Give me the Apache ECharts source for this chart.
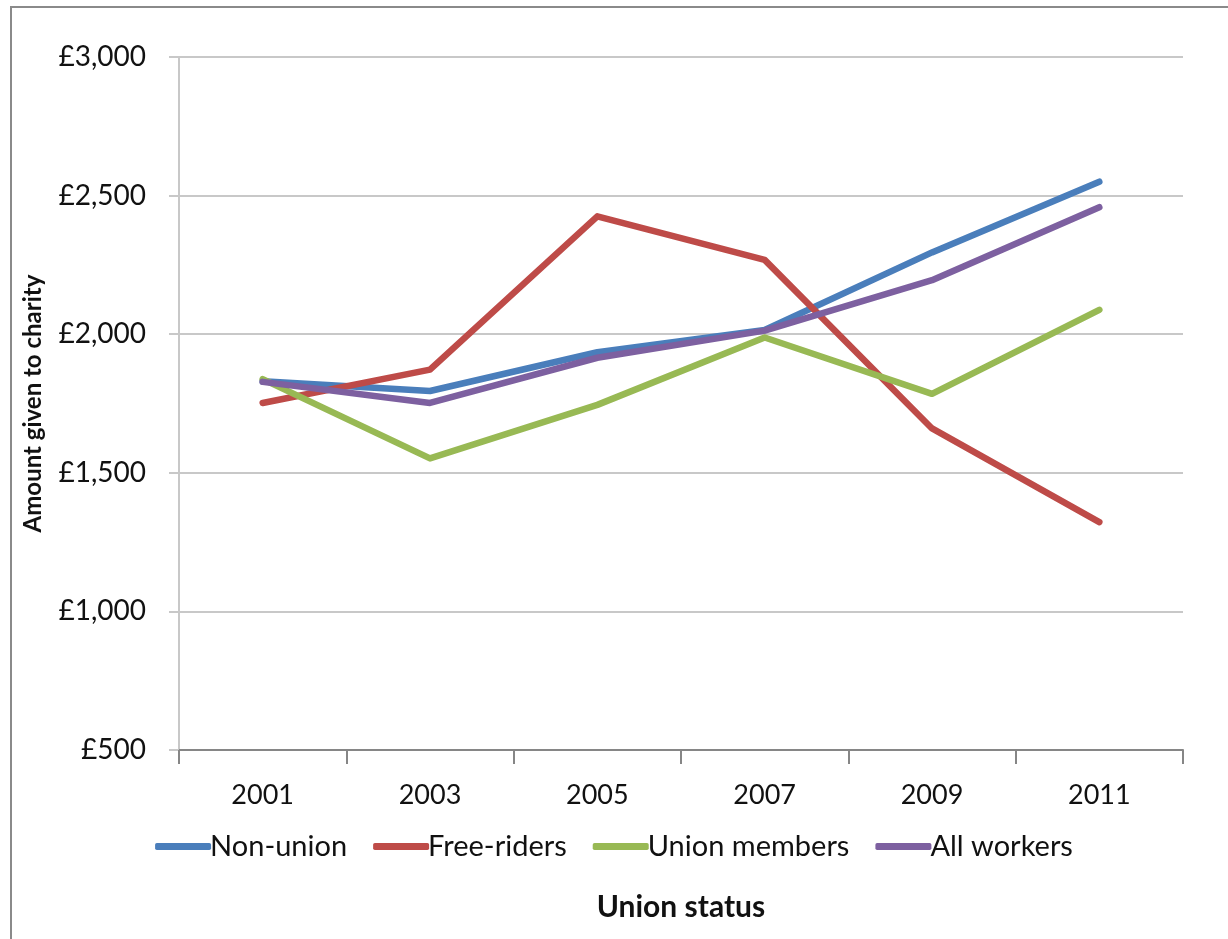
<!DOCTYPE html>
<html><head><meta charset="utf-8">
<script src="https://cdn.jsdelivr.net/npm/echarts@6/dist/echarts.min.js"></script>
<style>
html,body{margin:0;padding:0;background:#fff;}
#frame{position:absolute;left:10px;top:6px;width:1240px;height:960px;border-left:2px solid #8a8a8a;border-top:2px solid #8a8a8a;}
#c{position:absolute;left:0;top:0;width:1228px;height:939px;}
</style></head>
<body>
<div id="frame"></div>
<div id="c"></div>
<script>
const years = ['2001','2003','2005','2007','2009','2011'];
const nonUnion = [1830, 1795, 1935, 2015, 2295, 2550];
const freeRiders = [1752, 1872, 2425, 2268, 1660, 1322];
const unionMembers = [1838, 1552, 1745, 1988, 1785, 2088];
const allWorkers = [1828, 1752, 1915, 2013, 2195, 2458];
const yTicks = {min: 500, max: 3000, interval: 500};

const font = 'Lato, "Noto Sans", sans-serif';
const colors = ['#4A7EBB', '#BE4B48', '#98B954', '#7D60A0'];
const names = ['Non-union', 'Free-riders', 'Union members', 'All workers'];
const data = [nonUnion, freeRiders, unionMembers, allWorkers];

const chart = echarts.init(document.getElementById('c'), null, {renderer: 'canvas'});
chart.setOption({
  animation: false,
  backgroundColor: 'transparent',
  color: colors,
  grid: {left: 179, right: 45, top: 57, bottom: 189, containLabel: false},
  legend: {
    bottom: 73, left: 'center',
    itemWidth: 56, itemHeight: 7, itemGap: 26,
    icon: 'roundRect',
    textStyle: {fontFamily: font, fontSize: 29, color: '#111', padding: [0,0,0,-6]},
    data: names
  },
  xAxis: {
    type: 'category', data: years, boundaryGap: true,
    name: 'Union status', nameLocation: 'middle', nameGap: 142,
    nameTextStyle: {fontFamily: font, fontSize: 30, fontWeight: 'bold', color: '#111'},
    axisLine: {lineStyle: {color: '#868686', width: 2}},
    axisTick: {show: true, length: 14, lineStyle: {color: '#868686', width: 2}},
    axisLabel: {fontFamily: font, fontSize: 27, color: '#111', margin: 32},
    splitLine: {show: false}
  },
  yAxis: {
    type: 'value', min: yTicks.min, max: yTicks.max, interval: yTicks.interval,
    name: 'Amount given to charity', nameLocation: 'middle', nameGap: 134,
    nameTextStyle: {fontFamily: font, fontSize: 24, fontWeight: 'bold', color: '#111'},
    axisLine: {show: true, lineStyle: {color: '#c8c8c8', width: 2}},
    axisTick: {show: true, length: 10, lineStyle: {color: '#c8c8c8', width: 2}},
    axisLabel: {fontFamily: font, fontSize: 28, color: '#111', margin: 33,
      formatter: v => '£' + v.toLocaleString('en-GB')},
    splitLine: {show: true, lineStyle: {color: '#c8c8c8', width: 2}}
  },
  series: names.map((n, i) => ({
    name: n, type: 'line', data: data[i],
    symbol: 'none', smooth: false,
    lineStyle: {width: 6.5, color: colors[i], cap: 'round', join: 'round'},
    itemStyle: {color: colors[i]}
  }))
});
</script>
</body></html>
